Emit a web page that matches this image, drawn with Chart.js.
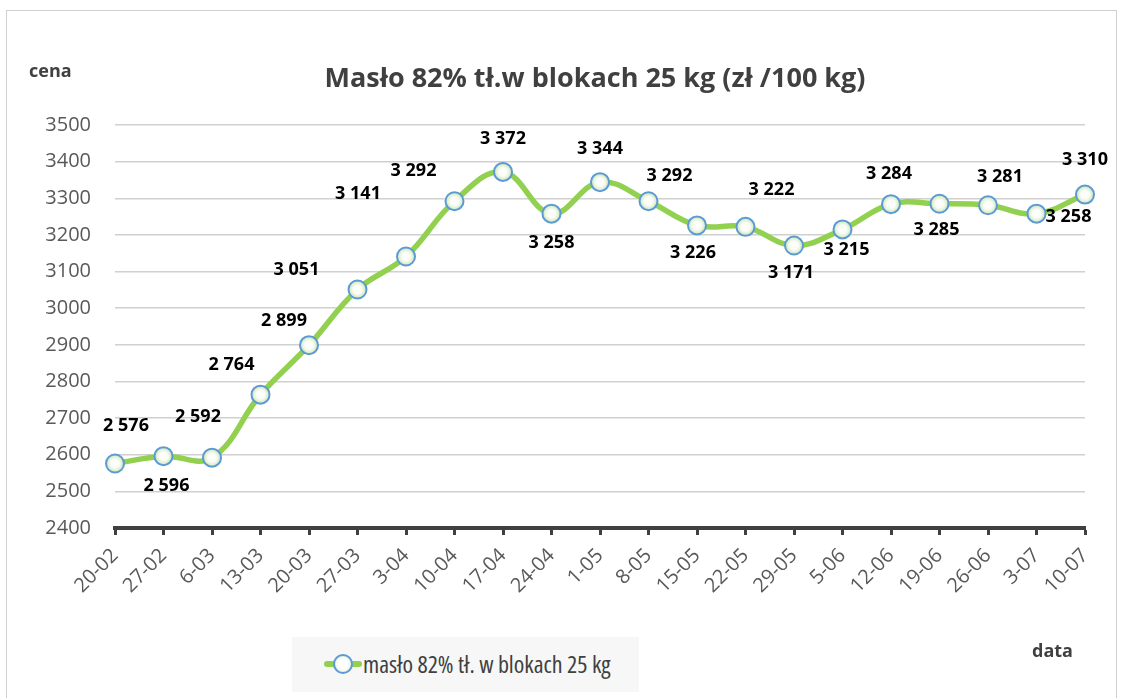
<!DOCTYPE html>
<html>
<head>
<meta charset="utf-8">
<script src="https://cdn.jsdelivr.net/npm/chart.js@4.4.1/dist/chart.umd.min.js"></script>
<style>
  html,body{margin:0;padding:0;background:#fff;}
  body{width:1122px;height:698px;position:relative;overflow:hidden;font-family:"Open Sans",sans-serif;}
  #frame{position:absolute;left:6px;top:10px;width:1111px;height:700px;border:1px solid #d0d0d0;box-sizing:border-box;}
  #c{position:absolute;left:0;top:0;}
  .txt{position:absolute;white-space:nowrap;color:#404040;}
  #title{left:0;width:1190px;top:58px;text-align:center;font-size:27px;font-weight:700;}
  #cena{left:29px;top:58px;font-size:18px;font-weight:700;}
  #data{left:1032px;top:638px;font-size:18px;font-weight:700;}
  #legend{position:absolute;left:292px;top:637px;width:347px;height:55px;background:#f7f7f7;}
  #legend .sym{position:absolute;left:32px;top:24px;width:38px;height:6px;background:#92d050;border-radius:3px;}
  #legend .dot{position:absolute;left:41px;top:17px;width:16px;height:16px;border:2px solid #5b9bd5;border-radius:50%;background:radial-gradient(circle,#ffffff 40%,#d8eac4 100%);}
  #legend .lab{position:absolute;left:71px;top:10px;font-size:24px;color:#404040;font-stretch:condensed;white-space:nowrap;}
</style>
</head>
<body>
<div id="frame"></div>
<canvas id="c" width="1122" height="698"></canvas>
<div class="txt" id="title">Masło 82% tł.w blokach 25 kg (zł /100 kg)</div>
<div class="txt" id="cena">cena</div>
<div class="txt" id="data">data</div>
<div id="legend"><div class="sym"></div><div class="dot"></div><div class="lab">masło 82% tł. w blokach 25 kg</div></div>
<script>
const categories = ["20-02","27-02","6-03","13-03","20-03","27-03","3-04","10-04","17-04","24-04","1-05","8-05","15-05","22-05","29-05","5-06","12-06","19-06","26-06","3-07","10-07"];
const prices = [2576,2596,2592,2764,2899,3051,3141,3292,3372,3258,3344,3292,3226,3222,3171,3215,3284,3285,3281,3258,3310];
const seriesName = "masło 82% tł. w blokach 25 kg";
const yMin = 2400, yMax = 3500, yStep = 100;

// label offsets (style only): [dx, dy] of label centre relative to the point
const labelOffsets = [[11,-38],[3,30],[-14,-41],[-29,-30],[-25,-24],[-61,-20],[-48,-63],[-41,-30],[0,-33],[0,29],[0,-33],[21,-25],[-4,27],[26,-37],[-3,27],[4,20],[-2,-30],[-3,26],[12,-28],[32,3],[0,-35]];

function fmt(v){ return String(v).replace(/\B(?=(\d{3})+(?!\d))/g,' '); }

function pointFill(c){
  try{
    const ch = c.chart, sx = ch.scales.x, sy = ch.scales.y;
    if(!sx || !sy || c.dataIndex === undefined) return '#eff6e6';
    const x = sx.getPixelForValue(c.dataIndex);
    const y = sy.getPixelForValue(c.dataset.data[c.dataIndex]);
    if(!isFinite(x) || !isFinite(y)) return '#eff6e6';
    const g = ch.ctx.createRadialGradient(x, y, 0, x, y, 9);
    g.addColorStop(0, '#ffffff');
    g.addColorStop(0.45, '#fbfdf8');
    g.addColorStop(1, '#cfe5b6');
    return g;
  }catch(e){ return '#eff6e6'; }
}

const labelPlugin = {
  id:'pointLabels',
  afterDatasetsDraw(chart){
    const ctx = chart.ctx;
    const meta = chart.getDatasetMeta(0);
    ctx.save();
    ctx.font = 'bold 18px "Open Sans"';
    ctx.fillStyle = '#000';
    ctx.textAlign = 'center';
    ctx.textBaseline = 'middle';
    meta.data.forEach((pt,i)=>{
      const o = labelOffsets[i] || [0,-30];
      ctx.fillText(fmt(chart.data.datasets[0].data[i]), pt.x + o[0], pt.y + o[1]);
    });
    ctx.restore();
  }
};

new Chart(document.getElementById('c'), {
  type:'line',
  data:{
    labels:categories,
    datasets:[{
      label:seriesName,
      data:prices,
      borderColor:'#92d050',
      borderWidth:5.5,
      tension:0.4,
      pointRadius:9,
      pointBorderWidth:2,
      pointBorderColor:'#5b9bd5',
      pointBackgroundColor:pointFill,
      fill:false
    }]
  },
  options:{
    responsive:false,
    animation:false,
    layout:{padding:{left:0,right:37,top:125,bottom:0}},
    plugins:{legend:{display:false},title:{display:false},tooltip:{enabled:false}},
    scales:{
      x:{
        offset:false,
        grid:{drawOnChartArea:false,drawTicks:true,tickLength:7,tickWidth:3,color:'#404040'},
        border:{display:true,width:4,color:'#404040'},
        ticks:{minRotation:45,maxRotation:45,autoSkip:false,color:'#595959',font:{family:'Open Sans',size:20},padding:9},
        afterFit(s){ s.height = 170; }
      },
      y:{
        min:yMin,max:yMax,
        ticks:{stepSize:yStep,color:'#595959',font:{family:'Open Sans',size:20},padding:24,callback:(v)=>String(v)},
        grid:{color:'#d0d0d0',lineWidth:1.5,drawTicks:false},
        border:{display:false},
        afterFit(s){ s.width = 115; }
      }
    }
  },
  plugins:[labelPlugin]
});
</script>
</body>
</html>
